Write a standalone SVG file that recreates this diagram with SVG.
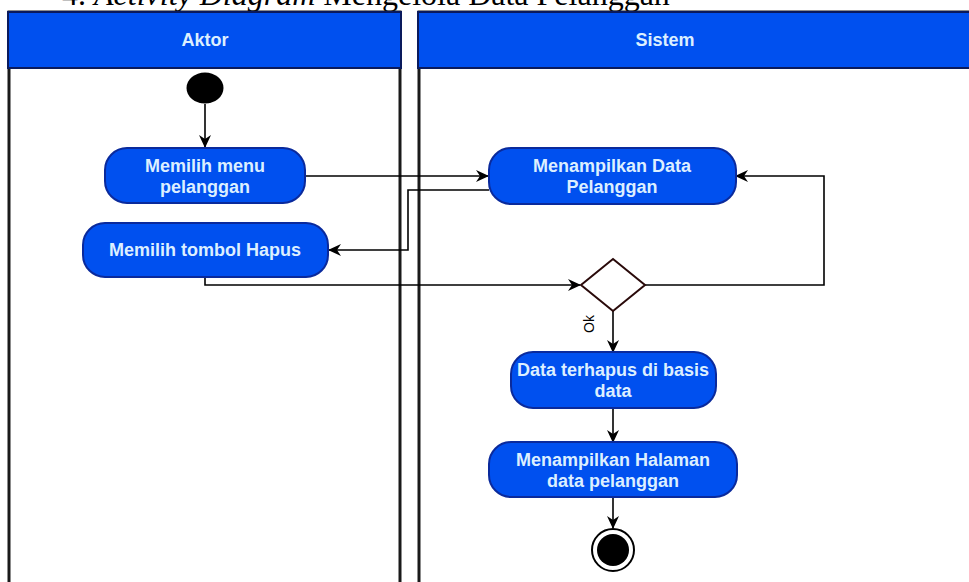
<svg xmlns="http://www.w3.org/2000/svg" width="969" height="582" viewBox="0 0 969 582">
  <style>
    .title { font-family: "Liberation Serif", "Times New Roman", serif; font-size: 32px; fill: #000; }
    .lane { fill: #ffffff; stroke: #1a1a1a; stroke-width: 3; }
    .head { fill: #0050ef; stroke: #0a1a5c; stroke-width: 2; }
    .headtxt { font-family: "Liberation Sans", Arial, sans-serif; font-weight: bold; font-size: 18px; fill: #dcefff; text-anchor: middle; }
    .act { fill: #0050ef; stroke: #0a2a9c; stroke-width: 2; }
    .acttxt { font-family: "Liberation Sans", Arial, sans-serif; font-weight: bold; font-size: 18px; fill: #dcefff; text-anchor: middle; }
    .edge { fill: none; stroke: #000; stroke-width: 1.6; marker-end: url(#arrow); }
    .lbl { font-family: "Liberation Sans", Arial, sans-serif; font-size: 14px; fill: #000; text-anchor: middle; }
  </style>
  <defs>
    <marker id="arrow" markerUnits="userSpaceOnUse" markerWidth="14" markerHeight="12" viewBox="0 0 14 12" refX="12" refY="6" orient="auto">
      <path d="M0,0 L13,6 L0,12 L4,6 Z" fill="#000"/>
    </marker>
  </defs>

  <text class="title" x="62" y="5">4. <tspan font-style="italic">Activity Diagram</tspan> Mengelola Data Pelanggan</text>

  <g id="lane-aktor">
    <rect class="lane" x="9" y="12" width="391" height="600"/>
    <rect class="head" x="8" y="12" width="393" height="56"/>
    <text class="headtxt" x="205" y="46">Aktor</text>
  </g>
  <g id="lane-sistem">
    <rect class="lane" x="419" y="12" width="560" height="600"/>
    <rect class="head" x="418" y="12" width="560" height="56"/>
    <text class="headtxt" x="665" y="46">Sistem</text>
  </g>

  <g id="connectors">
    <path class="edge" d="M205,104 L205,147"/>
    <path class="edge" d="M305,176 L488,176"/>
    <path class="edge" d="M489,190 L408,190 L408,250 L329,250"/>
    <path class="edge" d="M205,277 L205,285 L580,285"/>
    <path class="edge" d="M645,285 L824,285 L824,176 L736,176"/>
    <path class="edge" d="M613,311 L613,352"/>
    <text class="lbl" transform="translate(594,324) rotate(-90)">Ok</text>
    <path class="edge" d="M613,408 L613,442"/>
    <path class="edge" d="M613,497 L613,528"/>
  </g>

  <g id="start">
    <ellipse cx="205" cy="88" rx="18.5" ry="15.5" fill="#000"/>
  </g>
  <g id="memilih-menu">
    <rect class="act" x="105" y="148" width="200" height="55" rx="22"/>
    <text class="acttxt" x="205" y="172">Memilih menu</text>
    <text class="acttxt" x="205" y="193">pelanggan</text>
  </g>
  <g id="memilih-hapus">
    <rect class="act" x="83" y="223" width="245" height="54" rx="22"/>
    <text class="acttxt" x="205" y="256">Memilih tombol Hapus</text>
  </g>
  <g id="menampilkan-data">
    <rect class="act" x="489" y="148" width="247" height="56" rx="22"/>
    <text class="acttxt" x="612" y="172">Menampilkan Data</text>
    <text class="acttxt" x="612" y="193">Pelanggan</text>
  </g>
  <g id="decision">
    <polygon points="613,259 645,285 613,311 581,285" fill="#ffffff" stroke="#2a0a0a" stroke-width="2"/>
  </g>
  <g id="data-terhapus">
    <rect class="act" x="511" y="352" width="205" height="56" rx="22"/>
    <text class="acttxt" x="613" y="376">Data terhapus di basis</text>
    <text class="acttxt" x="613" y="397">data</text>
  </g>
  <g id="menampilkan-halaman">
    <rect class="act" x="489" y="442" width="248" height="55" rx="22"/>
    <text class="acttxt" x="613" y="466">Menampilkan Halaman</text>
    <text class="acttxt" x="613" y="487">data pelanggan</text>
  </g>
  <g id="end">
    <circle cx="613" cy="550" r="21" fill="#ffffff" stroke="#000" stroke-width="2"/>
    <circle cx="613" cy="550" r="16" fill="#000"/>
  </g>
</svg>
